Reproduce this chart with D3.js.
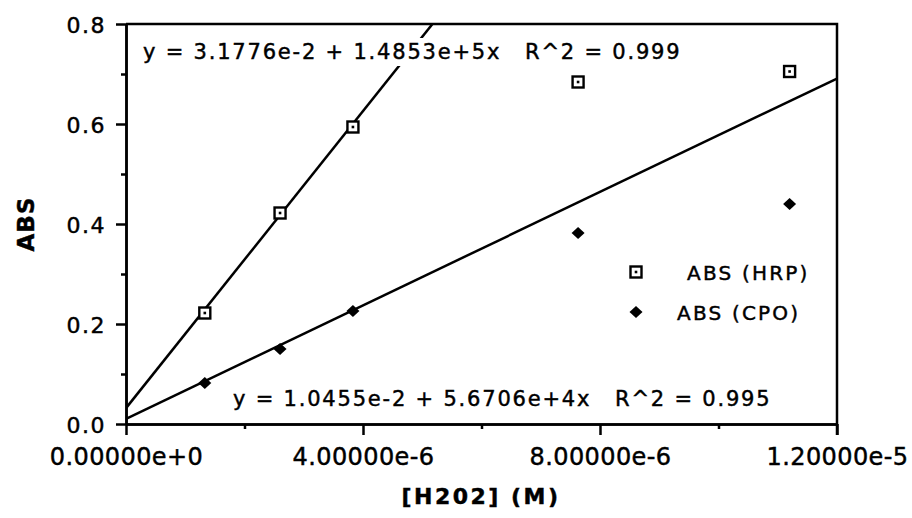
<!DOCTYPE html>
<html>
<head>
<meta charset="utf-8">
<script src="https://cdn.jsdelivr.net/npm/d3@7"></script>
<style>
body { margin: 0; background: #fff; }
svg text { font-family: "DejaVu Sans", sans-serif; fill: #000; stroke: #000; stroke-width: 0.45px; }
</style>
</head>
<body>
<div id="chart"></div>
<script>
// values
var concH2O2 = [1.33e-6, 2.6e-6, 3.83e-6, 7.63e-6, 1.12e-5];
var absHRP = [0.222, 0.422, 0.594, 0.684, 0.705];
var absCPO = [0.082, 0.150, 0.226, 0.382, 0.440];

// regression coefficients printed on the chart [intercept, slope]
var fitHRP = [3.1776e-2, 1.4853e+5];
var fitCPO = [1.0455e-2, 5.6706e+4];
var eqHRP = ["y = 3.1776e-2 + 1.4853e+5x", "R^2 = 0.999"];
var eqCPO = ["y = 1.0455e-2 + 5.6706e+4x", "R^2 = 0.995"];

var xTicks = [0, 4e-6, 8e-6, 1.2e-5];
var xTickLabels = ["0.00000e+0", "4.00000e-6", "8.00000e-6", "1.20000e-5"];
var xMinor = [2e-6, 6e-6, 1e-5];
var yTicks = [0, 0.2, 0.4, 0.6, 0.8];
var yTickLabels = ["0.0", "0.2", "0.4", "0.6", "0.8"];
var yMinor = [0.1, 0.3, 0.5, 0.7];
var seriesNames = ["ABS (HRP)", "ABS (CPO)"];

const margin = {top: 24, right: 75, bottom: 94, left: 126},
      W = 912, H = 518,
      width = W - margin.left - margin.right,
      height = H - margin.top - margin.bottom;

var svg = d3.select("#chart")
  .append("svg")
  .attr("width", W)
  .attr("height", H)
  .append("g")
  .attr("transform", "translate(" + margin.left + "," + margin.top + ")");

var x = d3.scaleLinear().domain([0, 1.2e-5]).range([0, width]);
var y = d3.scaleLinear().domain([0, 0.8]).range([height, 0]);

svg.append("clipPath").attr("id", "plotclip")
  .append("rect").attr("width", width).attr("height", height);

// fit lines
function fitLine(c) {
  return d3.line()
    .x(function(d) {return x(d);})
    .y(function(d) {return y(c[0] + c[1] * d);})(x.domain());
}
svg.append("path").attr("d", fitLine(fitHRP))
  .attr("clip-path", "url(#plotclip)")
  .style("fill", "none").style("stroke", "#000").style("stroke-width", 2.5);
svg.append("path").attr("d", fitLine(fitCPO))
  .attr("clip-path", "url(#plotclip)")
  .style("fill", "none").style("stroke", "#000").style("stroke-width", 2.5);

// axes
var xAxis = d3.axisBottom(x).tickValues(xTicks)
  .tickFormat(function(d, i) {return xTickLabels[i];})
  .tickSize(11).tickSizeOuter(0).tickPadding(13);
var xAxisMinor = d3.axisBottom(x).tickValues(xMinor)
  .tickFormat("").tickSize(5).tickSizeOuter(0);
var yAxis = d3.axisLeft(y).tickValues(yTicks)
  .tickFormat(function(d, i) {return yTickLabels[i];})
  .tickSize(10).tickSizeOuter(0).tickPadding(10);
var yAxisMinor = d3.axisLeft(y).tickValues(yMinor)
  .tickFormat("").tickSize(5).tickSizeOuter(0);

var gx = svg.append("g").attr("class", "axis axis-x")
  .attr("transform", "translate(0," + height + ")").call(xAxis);
svg.append("g").attr("transform", "translate(0," + height + ")").call(xAxisMinor);
var gy = svg.append("g").attr("class", "axis axis-y").call(yAxis);
svg.append("g").call(yAxisMinor);

svg.selectAll(".domain, .tick line")
  .attr("stroke", "#000").attr("stroke-width", 2.5);
gx.selectAll("text")
  .style("font-size", "24px").style("letter-spacing", "0.4px");
gy.selectAll("text")
  .attr("dy", "0.4em")
  .style("font-size", "22px").style("letter-spacing", "1.5px");

// frame top and right
svg.append("path")
  .attr("d", "M0,0H" + width + "V" + (height + 11))
  .style("fill", "none").style("stroke", "#000").style("stroke-width", 2.5);

// equations, on white boxes
function equation(lines, xs, yBase) {
  var g = svg.append("g");
  var texts = g.selectAll("text").data(lines).enter().append("text")
    .attr("x", function(d, i) {return xs[i] - margin.left;})
    .attr("y", yBase - margin.top)
    .style("font-size", "21px")
    .style("letter-spacing", "1.8px")
    .text(function(d) {return d;});
  var b = g.node().getBBox();
  g.insert("rect", "text")
    .attr("x", b.x - 4).attr("y", b.y - 2)
    .attr("width", b.width + 8).attr("height", b.height + 4)
    .style("fill", "#fff");
}
equation(eqHRP, [143, 525], 59);
equation(eqCPO, [233, 615], 406);

// markers
function square(sel) {
  sel.append("rect")
    .attr("x", -5.5).attr("y", -5.5).attr("width", 11).attr("height", 11)
    .style("fill", "#fff").style("stroke", "#000").style("stroke-width", 2.4);
  sel.append("rect")
    .attr("x", -1.3).attr("y", -1.3).attr("width", 2.6).attr("height", 2.6)
    .style("fill", "#000");
}
function diamond(sel) {
  sel.append("path")
    .attr("d", "M0,-6L6.5,0L0,6L-6.5,0Z")
    .style("fill", "#000");
}

svg.selectAll(".hrp").data(concH2O2).enter().append("g")
  .attr("class", "hrp")
  .attr("transform", function(d, i) {return "translate(" + x(d) + "," + y(absHRP[i]) + ")";})
  .call(square);
svg.selectAll(".cpo").data(concH2O2).enter().append("g")
  .attr("class", "cpo")
  .attr("transform", function(d, i) {return "translate(" + x(d) + "," + y(absCPO[i]) + ")";})
  .call(diamond);

// legend
var legend = svg.append("g").attr("transform", "translate(" + (636 - margin.left) + "," + (272 - margin.top) + ")");
legend.append("g").call(square);
legend.append("g").attr("transform", "translate(0,40)").call(diamond);
legend.selectAll(".ltxt").data(seriesNames).enter().append("text")
  .attr("class", "ltxt")
  .attr("x", function(d, i) {return i == 0 ? 51 : 41;})
  .attr("y", function(d, i) {return 8 + i * 40;})
  .style("font-size", "20px")
  .style("letter-spacing", "2.2px")
  .text(function(d) {return d;});

// axis titles
svg.append("text")
  .attr("transform", "translate(" + (34 - margin.left) + "," + (224 - margin.top) + ") rotate(-90)")
  .attr("text-anchor", "middle")
  .style("font-size", "23px").style("font-weight", "bold").style("letter-spacing", "1px")
  .text("ABS");
svg.append("text")
  .attr("x", 481 - margin.left).attr("y", 504 - margin.top)
  .attr("text-anchor", "middle")
  .style("font-size", "22px").style("font-weight", "bold").style("letter-spacing", "2.5px")
  .text("[H202] (M)");
</script>
</body>
</html>
